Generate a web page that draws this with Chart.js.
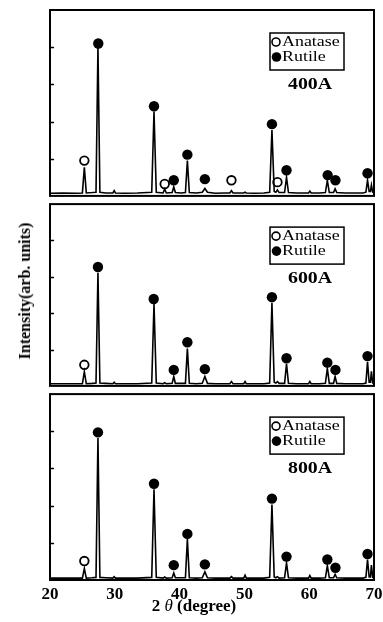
<!DOCTYPE html>
<html>
<head>
<meta charset="utf-8">
<script src="https://cdn.jsdelivr.net/npm/chart.js@4.4.0/dist/chart.umd.min.js"></script>
<style>
  body { margin: 0; background: #fff; }
  #wrap { position: relative; width: 383px; height: 622px; overflow: hidden; }
  canvas { position: absolute; left: 0; }
  #ytitle {
    position: absolute; left: 25px; top: 291px;
    transform: translate(-50%, -50%) rotate(-90deg);
    font: bold 16px "Liberation Serif", serif; white-space: nowrap; color: #000;
  }
</style>
</head>
<body>
<div id="wrap">
  <canvas id="c400" width="383" height="202" style="top:0px"></canvas>
  <canvas id="c600" width="383" height="194" style="top:198px"></canvas>
  <canvas id="c800" width="383" height="234" style="top:388px"></canvas>
  <div id="ytitle">Intensity(arb. units)</div>
</div>
<script>
// 2theta grid shared by the three patterns (peak feet, peak tops, baseline)
const twoTheta = [
  20, 22, 24,
  25.0, 25.3, 25.6,
  26.5,
  27.1, 27.4, 27.7,
  28.6,
  29.7, 29.9, 30.1,
  31.5, 33.5,
  35.7, 36.05, 36.4,
  37.45, 37.7, 37.95,
  38.85, 39.1, 39.35,
  40.2,
  40.9, 41.2, 41.5,
  42.6,
  43.5, 43.9, 44.3,
  45.5, 46.8,
  47.75, 48.0, 48.25,
  49.9, 50.1, 50.3,
  51.5, 53.0,
  53.9, 54.25, 54.6,
  54.85, 55.1, 55.35,
  56.2, 56.5, 56.8,
  58.0,
  59.9, 60.1, 60.3,
  61.6,
  62.5, 62.8, 63.1,
  63.75, 64.0, 64.25,
  65.5, 67.0, 68.3,
  68.75, 69.0, 69.25,
  69.45, 69.6, 69.8,
  70
];

const int400 = [
  0.07, 0.08, 0.07,
  0.08, 0.77, 0.08,
  0.09,
  0.10, 4.00, 0.10,
  0.08,
  0.08, 0.14, 0.08,
  0.07, 0.08,
  0.10, 2.27, 0.10,
  0.08, 0.19, 0.08,
  0.09, 0.24, 0.09,
  0.08,
  0.09, 0.95, 0.09,
  0.08,
  0.10, 0.20, 0.10,
  0.07, 0.08,
  0.08, 0.14, 0.08,
  0.08, 0.10, 0.08,
  0.07, 0.08,
  0.10, 1.77, 0.12,
  0.10, 0.16, 0.09,
  0.09, 0.50, 0.09,
  0.08,
  0.08, 0.13, 0.08,
  0.08,
  0.09, 0.42, 0.09,
  0.09, 0.19, 0.09,
  0.08, 0.08, 0.08,
  0.10, 0.42, 0.12,
  0.12, 0.29, 0.10,
  0.09
];

const int600 = [
  0.06, 0.06, 0.06,
  0.06, 0.39, 0.06,
  0.07,
  0.08, 3.11, 0.08,
  0.07,
  0.06, 0.10, 0.06,
  0.06, 0.06,
  0.08, 2.25, 0.08,
  0.06, 0.09, 0.06,
  0.07, 0.26, 0.07,
  0.07,
  0.07, 1.03, 0.07,
  0.06,
  0.07, 0.26, 0.07,
  0.06, 0.06,
  0.06, 0.12, 0.06,
  0.06, 0.12, 0.06,
  0.06, 0.06,
  0.08, 2.28, 0.10,
  0.08, 0.12, 0.07,
  0.07, 0.61, 0.07,
  0.06,
  0.06, 0.12, 0.06,
  0.06,
  0.07, 0.48, 0.07,
  0.07, 0.26, 0.07,
  0.06, 0.06, 0.06,
  0.08, 0.66, 0.10,
  0.10, 0.40, 0.08,
  0.07
];

const int800 = [
  0.05, 0.05, 0.05,
  0.05, 0.31, 0.05,
  0.06,
  0.07, 3.82, 0.07,
  0.06,
  0.05, 0.09, 0.05,
  0.05, 0.05,
  0.07, 2.44, 0.07,
  0.05, 0.08, 0.05,
  0.06, 0.19, 0.06,
  0.06,
  0.06, 1.10, 0.06,
  0.05,
  0.06, 0.22, 0.06,
  0.05, 0.05,
  0.05, 0.09, 0.05,
  0.05, 0.13, 0.05,
  0.05, 0.05,
  0.07, 2.03, 0.08,
  0.06, 0.09, 0.05,
  0.06, 0.46, 0.06,
  0.05,
  0.05, 0.12, 0.05,
  0.05,
  0.06, 0.39, 0.06,
  0.06, 0.15, 0.06,
  0.05, 0.05, 0.05,
  0.07, 0.55, 0.08,
  0.08, 0.40, 0.07,
  0.06
];

// phase markers [2theta, height]
const anatase400 = [[25.3, 0.95], [37.7, 0.32], [48.0, 0.42], [55.1, 0.37]];
const rutile400 = [[27.45, 4.10], [36.05, 2.41], [39.1, 0.42], [41.2, 1.11], [43.9, 0.45],
                   [54.25, 1.93], [56.5, 0.69], [62.85, 0.56], [64.05, 0.42], [69.0, 0.61]];
const anatase600 = [[25.3, 0.58]];
const rutile600 = [[27.4, 3.27], [36.0, 2.39], [39.1, 0.44], [41.2, 1.20], [43.9, 0.46],
                   [54.25, 2.44], [56.5, 0.76], [62.8, 0.64], [64.05, 0.44], [69.0, 0.82]];
const anatase800 = [[25.3, 0.51]];
const rutile800 = [[27.4, 3.97], [36.05, 2.59], [39.1, 0.40], [41.2, 1.24], [43.9, 0.42],
                   [54.25, 2.19], [56.5, 0.63], [62.8, 0.55], [64.05, 0.33], [69.0, 0.70]];

const xTicks = [20, 30, 40, 50, 60, 70];
const yTicks = [1, 2, 3, 4];
const phaseNames = ['Anatase', 'Rutile'];
const sampleNames = ['400A', '600A', '800A'];

const SERIF = '"Liberation Serif", "Times New Roman", serif';

// frame, inward y ticks, phase legend and sample label
const framePlugin = {
  id: 'frame',
  afterDatasetsDraw(chart, args, opts) {
    const {ctx, chartArea: a, scales: {y}} = chart;
    ctx.save();
    ctx.strokeStyle = '#000';
    ctx.lineWidth = 2;
    ctx.strokeRect(a.left, a.top, a.right - a.left, a.bottom - a.top);
    ctx.lineWidth = 1.5;
    yTicks.forEach(v => {
      const py = Math.round(y.getPixelForValue(v)) + 0.5;
      ctx.beginPath();
      ctx.moveTo(a.left, py);
      ctx.lineTo(a.left + 4, py);
      ctx.stroke();
    });

    // legend box
    const bx = a.right - 104, by = a.top + 23;
    ctx.lineWidth = 1.5;
    ctx.strokeRect(bx, by, 74, 37);
    const rows = [a.top + 32, a.top + 47];
    // open circle
    ctx.beginPath();
    ctx.arc(bx + 6, rows[0], 4, 0, Math.PI * 2);
    ctx.fillStyle = '#fff';
    ctx.fill();
    ctx.lineWidth = 1.6;
    ctx.stroke();
    // filled circle
    ctx.beginPath();
    ctx.arc(bx + 6.5, rows[1], 4.8, 0, Math.PI * 2);
    ctx.fillStyle = '#000';
    ctx.fill();

    ctx.fillStyle = '#000';
    ctx.textBaseline = 'middle';
    ctx.textAlign = 'left';
    ctx.font = '14px ' + SERIF;
    phaseNames.forEach((name, i) => {
      ctx.save();
      ctx.translate(bx + 12, rows[i] + 0.5);
      ctx.scale(1.28, 1);
      ctx.fillText(name, 0, 0);
      ctx.restore();
    });

    // sample label
    ctx.font = 'bold 16px ' + SERIF;
    ctx.textAlign = 'center';
    ctx.save();
    ctx.translate(a.right - 64, a.top + 75);
    ctx.scale(1.24, 1);
    ctx.fillText(opts.label, 0, 0);
    ctx.restore();

    // x axis title on the bottom panel
    if (opts.xTitle) {
      const cx = 194, cy = a.bottom + 27;
      const parts = [['2 ', 'bold 17px '], ['\u03b8', 'italic 17px '], [' (degree)', 'bold 17px ']];
      let w = 0;
      parts.forEach(p => { ctx.font = p[1] + SERIF; w += ctx.measureText(p[0]).width; });
      let x = cx - w / 2;
      ctx.textAlign = 'left';
      parts.forEach(p => {
        ctx.font = p[1] + SERIF;
        ctx.fillText(p[0], x, cy);
        x += ctx.measureText(p[0]).width;
      });
    }
    ctx.restore();
  }
};

function makeChart(id, intensities, anatase, rutile, label, bottom) {
  const spectrum = twoTheta.map((x, i) => ({x: x, y: intensities[i]}));
  return new Chart(document.getElementById(id), {
    type: 'line',
    data: {
      datasets: [
        {
          data: spectrum,
          borderColor: '#000',
          borderWidth: 1.6,
          pointRadius: 0,
          tension: 0
        },
        {
          type: 'scatter',
          data: anatase.map(p => ({x: p[0], y: p[1]})),
          pointStyle: 'circle',
          pointRadius: 4.3,
          pointBorderWidth: 1.8,
          pointBackgroundColor: '#fff',
          pointBorderColor: '#000',
          clip: 8
        },
        {
          type: 'scatter',
          data: rutile.map(p => ({x: p[0], y: p[1]})),
          pointStyle: 'circle',
          pointRadius: 5.2,
          pointBorderWidth: 0,
          pointBackgroundColor: '#000',
          pointBorderColor: '#000',
          clip: 8
        }
      ]
    },
    options: {
      responsive: false,
      animation: false,
      devicePixelRatio: 1,
      layout: {padding: {left: 50, right: 9, top: id === 'c400' ? 10 : 2, bottom: 2}},
      plugins: {
        legend: {display: false},
        tooltip: {enabled: false},
        frame: {label: label, xTitle: bottom}
      },
      scales: {
        x: {
          type: 'linear',
          min: 20,
          max: 70,
          display: bottom,
          afterBuildTicks: s => { s.ticks = xTicks.map(v => ({value: v})); },
          afterFit: s => {
            if (bottom) s.height = 40;
            s.paddingLeft = 0;
            s.paddingRight = 0;
          },
          grid: {display: false, drawTicks: false},
          border: {display: false},
          ticks: {
            padding: 4,
            color: '#000',
            font: {family: SERIF, size: 17, weight: 'bold'}
          }
        },
        y: {
          min: 0,
          max: 5,
          display: false
        }
      }
    },
    plugins: [framePlugin]
  });
}

makeChart('c400', int400, anatase400, rutile400, sampleNames[0], false);
makeChart('c600', int600, anatase600, rutile600, sampleNames[1], false);
makeChart('c800', int800, anatase800, rutile800, sampleNames[2], true);
</script>
</body>
</html>
